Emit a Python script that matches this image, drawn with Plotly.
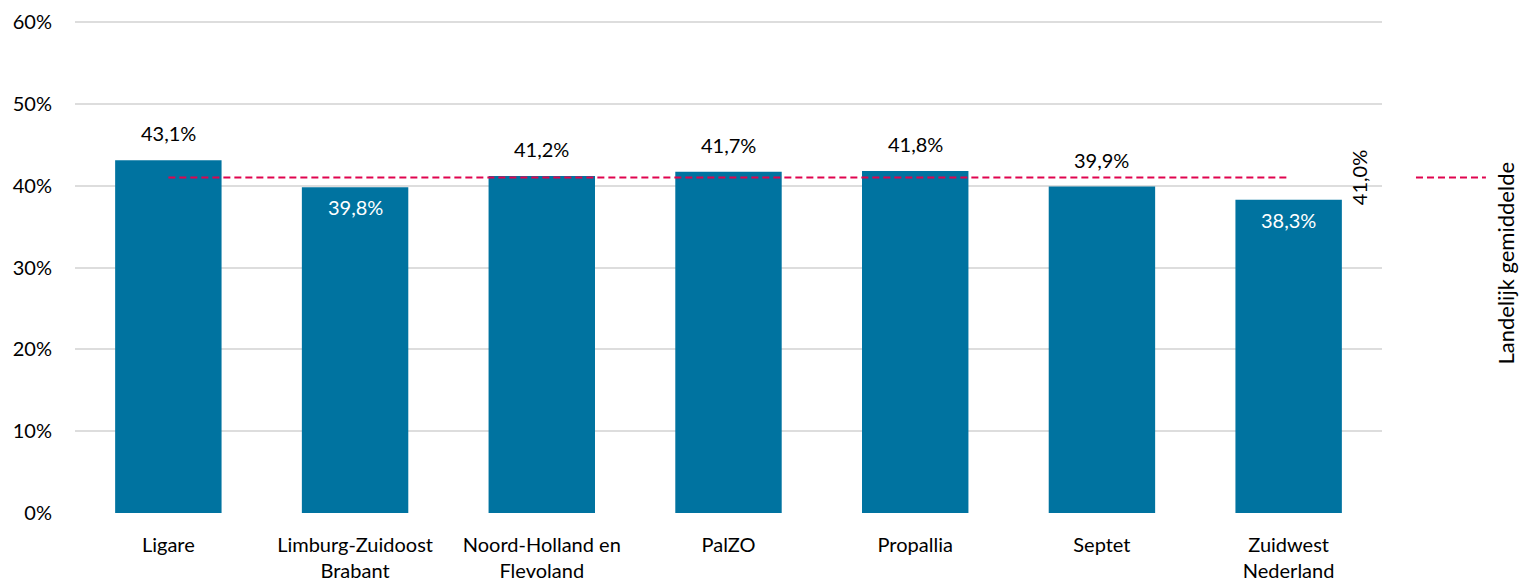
import plotly.graph_objects as go

categories = ["Ligare", "Limburg-Zuidoost<br>Brabant", "Noord-Holland en<br>Flevoland", "PalZO",
              "Propallia", "Septet", "Zuidwest<br>Nederland"]
values = [43.1, 39.8, 41.2, 41.7, 41.8, 39.9, 38.3]
labels = ["43,1%", "39,8%", "41,2%", "41,7%", "41,8%", "39,9%", "38,3%"]
inside = [False, True, False, False, False, False, True]
national_avg = 41.0
national_label = "41,0%"
legend_name = "Landelijk gemiddelde"
y_ticks = [0, 10, 20, 30, 40, 50, 60]
y_ticktext = ["0%", "10%", "20%", "30%", "40%", "50%", "60%"]

FONT = "Lato, 'Open Sans', sans-serif"
FS = 20
BAR = "#0073A0"
AVG = "#E0044F"

fig = go.Figure()
fig.add_trace(go.Bar(x=categories, y=values, marker=dict(color=BAR, line=dict(width=0)),
                     showlegend=False, hoverinfo="skip"))
fig.add_trace(go.Scatter(x=categories, y=[national_avg] * len(categories), mode="lines",
                         line=dict(color=AVG, width=2, dash="7px,4px"), showlegend=False,
                         hoverinfo="skip"))

for c, v, t, ins in zip(categories, values, labels, inside):
    fig.add_annotation(x=c, y=v, text=t, showarrow=False,
                       yshift=-20 if ins else 27,
                       font=dict(family=FONT, size=FS, color="white" if ins else "black"))

fig.add_annotation(x=categories[-1], y=national_avg, text=national_label, showarrow=False,
                   textangle=-90, xshift=70, font=dict(family=FONT, size=FS, color="black"))

# legend (rotated)
fig.add_shape(type="line", xref="paper", yref="y", x0=1.026, x1=1.0795, y0=national_avg, y1=national_avg,
              line=dict(color=AVG, width=2, dash="7px,4px"))
fig.add_annotation(xref="paper", yref="paper", x=1.0945, y=0.505, xanchor="center", yanchor="middle",
                   text=legend_name, showarrow=False,
                   textangle=-90, font=dict(family=FONT, size=22, color="black"))

fig.update_layout(
    width=1521, height=583,
    margin=dict(l=75, r=139, t=18, b=70),
    paper_bgcolor="white", plot_bgcolor="white",
    bargap=0.43,
    font=dict(family=FONT, size=FS, color="black"),
    xaxis=dict(showgrid=False, showline=False, ticks="", tickfont=dict(size=FS),
               ticklabelstandoff=18, automargin=False),
    yaxis=dict(range=[0, 60.5], tickvals=y_ticks, ticktext=y_ticktext, showgrid=True,
               gridcolor="#DDDDDD", gridwidth=1.5, zeroline=False, showline=False,
               ticks="", tickfont=dict(size=FS), ticklabelstandoff=22, automargin=False),
)

fig.write_html("out.html", config={"displayModeBar": False},
               post_script="document.body.style.margin='0';document.body.style.overflow='hidden';")
